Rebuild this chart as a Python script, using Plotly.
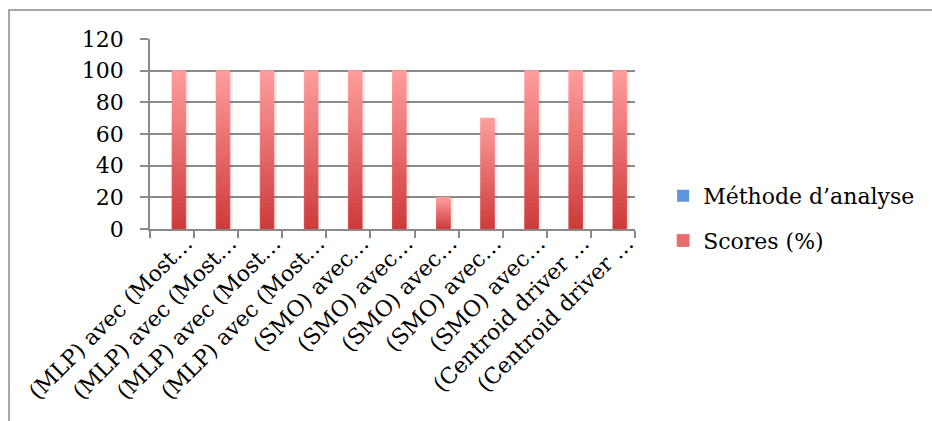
import plotly.graph_objects as go

# ---- data ----
categories = [
    "(MLP) avec (Most…", "(MLP) avec (Most…", "(MLP) avec (Most…", "(MLP) avec (Most…",
    "(SMO) avec…", "(SMO) avec…", "(SMO) avec…", "(SMO) avec…", "(SMO) avec…",
    "(Centroid driver …", "(Centroid driver …",
]
scores = [100, 100, 100, 100, 100, 100, 20, 70, 100, 100, 100]
methode = [None] * len(categories)  # "Méthode d'analyse" series (no numeric values)
y_ticks = [0, 20, 40, 60, 80, 100, 120]

positions = list(range(len(categories)))

FONT = "DejaVu Serif"
AXIS_GRAY = "#8a8a8a"
BAR_W = 0.31
N_SLICES = 40
TOP = (255, 156, 156)
BOTTOM = (206, 58, 58)


def lerp(a, b, t):
    return tuple(round(a[i] + (b[i] - a[i]) * t) for i in range(3))


fig = go.Figure()

# soft shadow to the right of each red bar
fig.add_trace(go.Bar(
    x=positions, y=scores, offset=0.02, width=BAR_W + 0.05,
    marker=dict(color="rgba(0,0,0,0.07)", line=dict(width=0)),
    showlegend=False, hoverinfo="skip",
))

# blue series (empty)
fig.add_trace(go.Bar(
    x=positions, y=methode, name="Méthode d’analyse",
    marker=dict(color="#5f93dc", line=dict(width=0)),
    offset=-BAR_W, width=BAR_W, legendrank=1, legendgroup="a",
))

# red series drawn as vertical gradient slices of each bar
for k in range(N_SLICES):
    t = k / (N_SLICES - 1)
    r, g, b = lerp(BOTTOM, TOP, t)
    col = f"rgb({r},{g},{b})"
    fig.add_trace(go.Bar(
        x=positions,
        y=[v / N_SLICES for v in scores],
        base=[v * k / N_SLICES for v in scores],
        name="Scores (%)",
        marker=dict(color=col, line=dict(width=0.8, color=col)),
        offset=0, width=BAR_W,
        showlegend=(k == N_SLICES // 2),
        legendrank=2, legendgroup="b",
    ))

# frame lines of the chart area (left and top)
x0 = (7 - 150) / 492
ytop = 1 + (39 - 10) / 190
fig.add_shape(type="path", xref="paper", yref="paper",
              path=f"M {x0} -1.2 L {x0} {ytop} L 1.7 {ytop}",
              line=dict(color=AXIS_GRAY, width=1.5))

fig.update_layout(
    width=932, height=421,
    margin=dict(l=150, r=290, t=39, b=192),
    paper_bgcolor="white", plot_bgcolor="white",
    barmode="overlay",
    font=dict(family=FONT, size=22, color="black"),
    legend=dict(
        x=1.058, xanchor="left", y=0.055, yanchor="middle",
        font=dict(family=FONT, size=22), traceorder="grouped",
        tracegroupgap=13, bgcolor="rgba(0,0,0,0)",
    ),
    xaxis=dict(
        range=[-0.5, len(categories) - 0.5], automargin=False,
        tickmode="array", tickvals=positions, ticktext=categories,
        tickangle=-45, ticks="", showgrid=False, zeroline=False,
        showline=True, linecolor=AXIS_GRAY, linewidth=1.5,
        minor=dict(tick0=0.5, dtick=1, ticks="outside", ticklen=7,
                   tickcolor=AXIS_GRAY, tickwidth=1.5, showgrid=False),
        tickfont=dict(family=FONT, size=22),
        ticklabelshift=14, ticklabelstandoff=-9,
    ),
    yaxis=dict(
        range=[0, 120], tickmode="array", tickvals=y_ticks, automargin=False,
        ticks="outside", ticklen=8, tickcolor=AXIS_GRAY, tickwidth=1.5,
        showgrid=True, gridcolor=AXIS_GRAY, gridwidth=1.5,
        zeroline=False, showline=True, linecolor=AXIS_GRAY, linewidth=1.5,
        ticklabelstandoff=12,
        tickfont=dict(family=FONT, size=22),
    ),
)

fig.write_html("out.html")
